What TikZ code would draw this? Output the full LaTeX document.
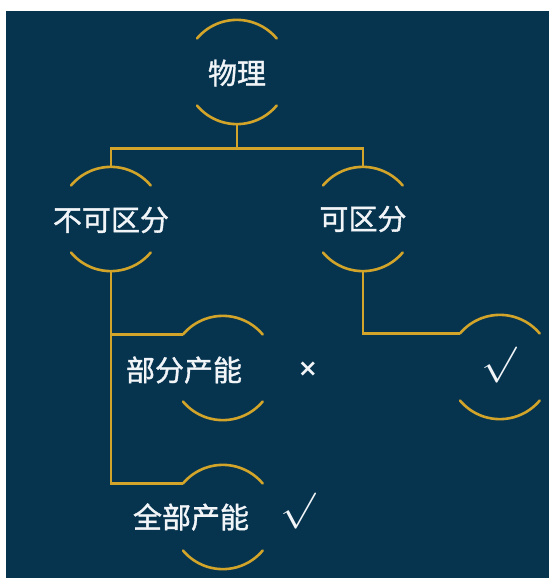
\documentclass[tikz,border=0pt]{standalone}
\usepackage{fontspec}
\newfontfamily\cjk[FakeBold=1.2]{Noto Sans CJK SC}
\newfontfamily\djv{DejaVu Sans}
\definecolor{bgblue}{HTML}{06344F}
\definecolor{gold}{HTML}{D2A52A}
\definecolor{txt}{HTML}{F2F5F8}
\tikzset{
  halo/.style={circle, minimum size=104pt, inner sep=0pt, draw=none},
  lbl/.style={text=txt, font=\cjk\fontsize{29}{32}\selectfont, inner sep=0pt},
  symb/.style={text=txt, inner sep=0pt},
  tick/.style={text=txt, inner sep=0pt, font=\fontsize{24}{26}\selectfont, xscale=1.7, yscale=1.45},
  link/.style={draw=gold, line width=2.6pt},
  arcline/.style={draw=gold, line width=2.6pt, line cap=round}
}
\begin{document}
\begin{tikzpicture}[x=1pt,y=1pt]
\fill[white] (0,0) rectangle (549,-578);
\useasboundingbox (0,0) rectangle (549,-578);
\fill[bgblue] (6,-11) rectangle (549,-578);
% circles (invisible), used as anchors
\node[halo] (wuli) at (237,-72) {};
\node[halo] (bk) at (111,-219) {};
\node[halo] (kq) at (363,-219) {};
\node[halo] (bf) at (223,-368) {};
\node[halo] (kv) at (500,-367) {};
\node[halo] (qb) at (223,-517) {};
% arcs
\foreach \n in {wuli,bk,kq,bf,kv,qb}{
  \draw[arcline] (\n.140) arc[start angle=140,end angle=40,radius=52];
  \draw[arcline] (\n.220) arc[start angle=220,end angle=320,radius=52];
}
% connectors
\draw[link] (wuli.south) -- ++(0,-24) -| (bk.north);
\draw[link] (wuli.south) -- ++(0,-24) -| (kq.north);
\draw[link] (bk.south) |- (bf.140);
\draw[link] (bk.south) |- (qb.140);
\draw[link] (kq.south) |- (kv.140);
% texts
\node[lbl] (t1) at (237,-73) {物理};
\node[lbl] (t2) at (111,-220) {不可区分};
\node[lbl] (t3) at (363,-219) {可区分};
\node[lbl] (t4) at (184,-370) {部分产能};
\node[lbl] (t5) at (191,-517) {全部产能};
\node[symb, font=\djv\bfseries\fontsize{24}{26}\selectfont] (x1) at (308,-369) {×};
\node[tick] (c1) at (499,-365) {$\surd$};
\node[tick] (c2) at (298,-511) {$\surd$};
\end{tikzpicture}
\end{document}
